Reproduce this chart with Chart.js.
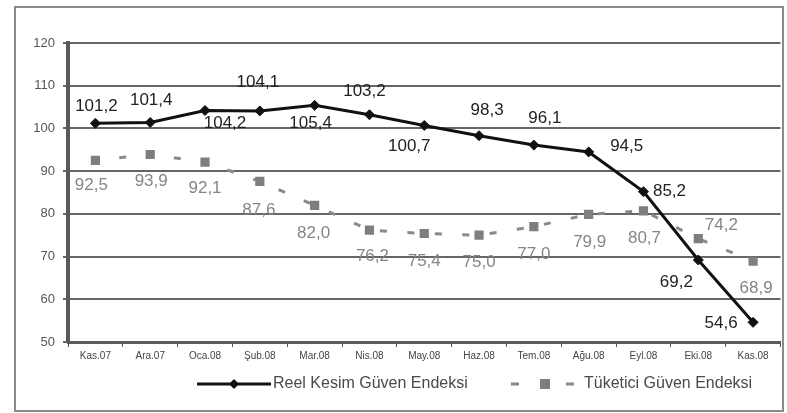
<!DOCTYPE html>
<html>
<head>
<meta charset="utf-8">
<script src="https://cdn.jsdelivr.net/npm/chart.js@4/dist/chart.umd.min.js"></script>
<style>
  html, body { margin: 0; padding: 0; background: #fff; }
  #wrap { width: 787px; height: 413px; position: relative; }
</style>
</head>
<body>
<div id="wrap"><canvas id="c" width="787" height="413"></canvas></div>
<script>
// Months (Kasım 2007 – Kasım 2008)
const months = ['Kas.07', 'Ara.07', 'Oca.08', 'Şub.08', 'Mar.08', 'Nis.08', 'May.08',
                'Haz.08', 'Tem.08', 'Ağu.08', 'Eyl.08', 'Eki.08', 'Kas.08'];

// Reel Kesim Güven Endeksi
const reelKesim = [101.2, 101.4, 104.2, 104.1, 105.4, 103.2, 100.7, 98.3, 96.1, 94.5, 85.2, 69.2, 54.6];

// Tüketici Güven Endeksi
const tuketici = [92.5, 93.9, 92.1, 87.6, 82.0, 76.2, 75.4, 75.0, 77.0, 79.9, 80.7, 74.2, 68.9];

// Value axis ticks
const yTicks = [50, 60, 70, 80, 90, 100, 110, 120];

// Where each value label sits relative to its point (dx, dy in px)
const reelLabelOffsets = [[1, -17], [1, -22], [20, 13], [-2, -29], [-4, 18], [-5, -23], [-15, 21],
                          [8, -25], [11, -27], [38, -6], [26, 0], [-22, 22], [-32, 1]];
const tuketiciLabelOffsets = [[-4, 25], [1, 27], [0, 26], [-1, 29], [-1, 28], [3, 26], [0, 28],
                              [0, 27], [0, 28], [1, 28], [1, 27], [23, -13], [3, 27]];

const FONT = '"Liberation Sans", Arial, sans-serif';
const fmt = v => v.toFixed(1).replace('.', ',');

// Frame around the whole figure
const framePlugin = {
  id: 'frame',
  beforeDraw(chart) {
    const ctx = chart.ctx;
    ctx.save();
    ctx.fillStyle = '#fff';
    ctx.fillRect(0, 0, chart.width, chart.height);
    ctx.strokeStyle = '#8a8a8a';
    ctx.lineWidth = 2;
    ctx.strokeRect(15, 7, 768, 404);
    ctx.restore();
  }
};

// Value labels next to each point
const valueLabels = {
  id: 'valueLabels',
  afterDatasetsDraw(chart) {
    const ctx = chart.ctx;
    const specs = [
      { offsets: reelLabelOffsets, color: '#222', size: 17 },
      { offsets: tuketiciLabelOffsets, color: '#858585', size: 17 }
    ];
    ctx.save();
    ctx.textAlign = 'center';
    ctx.textBaseline = 'middle';
    chart.data.datasets.forEach((ds, di) => {
      const meta = chart.getDatasetMeta(di);
      const s = specs[di];
      ctx.fillStyle = s.color;
      ctx.font = s.size + 'px ' + FONT;
      meta.data.forEach((pt, i) => {
        const [dx, dy] = s.offsets[i];
        ctx.fillText(fmt(ds.data[i]), pt.x + dx, pt.y + dy);
      });
    });
    ctx.restore();
  }
};

// Legend under the axis, with long line samples
const legendPlugin = {
  id: 'lineLegend',
  afterDraw(chart) {
    const ctx = chart.ctx;
    const ds = chart.data.datasets;
    const y = 384;
    ctx.save();
    // Reel kesim sample: solid line with diamond
    ctx.strokeStyle = ds[0].borderColor;
    ctx.lineWidth = 3;
    ctx.beginPath();
    ctx.moveTo(197, y);
    ctx.lineTo(271, y);
    ctx.stroke();
    ctx.fillStyle = ds[0].pointBackgroundColor;
    ctx.beginPath();
    ctx.moveTo(234, y - 5); ctx.lineTo(239, y); ctx.lineTo(234, y + 5); ctx.lineTo(229, y);
    ctx.closePath();
    ctx.fill();
    // Tüketici sample: dash, square, dash
    ctx.strokeStyle = ds[1].borderColor;
    ctx.beginPath();
    ctx.moveTo(511, y); ctx.lineTo(519, y);
    ctx.moveTo(566, y); ctx.lineTo(574, y);
    ctx.stroke();
    ctx.fillStyle = ds[1].pointBackgroundColor;
    ctx.fillRect(540, y - 5, 10, 10);
    // Texts
    ctx.fillStyle = '#4a4a4a';
    ctx.font = '16px ' + FONT;
    ctx.textAlign = 'left';
    ctx.textBaseline = 'middle';
    ctx.fillText(ds[0].label, 273, y);
    ctx.fillText(ds[1].label, 584, y);
    ctx.restore();
  }
};

new Chart(document.getElementById('c'), {
  type: 'line',
  data: {
    labels: months,
    datasets: [
      {
        label: 'Reel Kesim Güven Endeksi',
        data: reelKesim,
        borderColor: '#111',
        borderWidth: 3,
        pointStyle: 'rectRot',
        pointRadius: 5,
        pointBackgroundColor: '#111',
        pointBorderColor: '#111',
        pointBorderWidth: 1,
        tension: 0
      },
      {
        label: 'Tüketici Güven Endeksi',
        data: tuketici,
        borderColor: '#8a8a8a',
        borderWidth: 3,
        borderDash: [7, 20.5],
        borderDashOffset: 3.5,
        borderCapStyle: 'butt',
        pointStyle: 'rect',
        pointRadius: 6.5,
        pointBackgroundColor: '#7e7e7e',
        pointBorderColor: '#7e7e7e',
        pointBorderWidth: 0,
        tension: 0
      }
    ]
  },
  options: {
    responsive: false,
    animation: false,
    events: [],
    layout: { padding: { left: 0, right: 4, top: 43, bottom: 51 } },
    plugins: {
      legend: { display: false },
      tooltip: { enabled: false },
      title: { display: false }
    },
    scales: {
      x: {
        type: 'category',
        offset: true,
        afterFit(scale) { scale.height = 20; },
        grid: {
          display: true,
          offset: true,
          drawOnChartArea: false,
          drawTicks: true,
          tickLength: 5,
          color: '#555',
          lineWidth: 1
        },
        border: { display: true, color: '#5a5a5a', width: 3 },
        ticks: {
          color: '#444',
          font: { family: FONT, size: 10 },
          padding: 3,
          maxRotation: 0,
          autoSkip: false
        }
      },
      y: {
        min: 50,
        max: 120,
        afterFit(scale) { scale.width = 68; },
        afterBuildTicks(scale) { scale.ticks = yTicks.map(v => ({ value: v })); },
        grid: {
          color: '#666',
          lineWidth: 2,
          drawTicks: true,
          tickLength: 5
        },
        border: { display: true, color: '#5a5a5a', width: 4 },
        ticks: {
          color: '#555',
          font: { family: FONT, size: 13 },
          padding: 8
        }
      }
    }
  },
  plugins: [framePlugin, valueLabels, legendPlugin]
});
</script>
</body>
</html>
